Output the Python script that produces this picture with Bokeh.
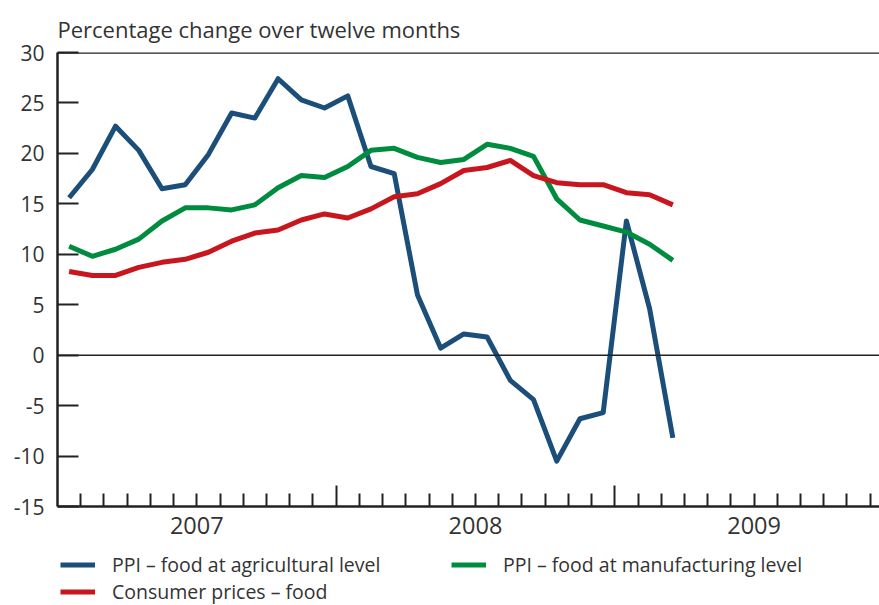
from bokeh.plotting import figure
from bokeh.layouts import column
from bokeh.models import (ColumnDataSource, FixedTicker, LinearAxis, Span, Legend,
                          LegendItem, Range1d)
from bokeh.embed import file_html
from bokeh.resources import INLINE

# Monthly observations, Jan 2007 - Mar 2009
months = ["2007-01", "2007-02", "2007-03", "2007-04", "2007-05", "2007-06",
          "2007-07", "2007-08", "2007-09", "2007-10", "2007-11", "2007-12",
          "2008-01", "2008-02", "2008-03", "2008-04", "2008-05", "2008-06",
          "2008-07", "2008-08", "2008-09", "2008-10", "2008-11", "2008-12",
          "2009-01", "2009-02", "2009-03"]
ppi_agri = [15.6, 18.4, 22.7, 20.3, 16.5, 16.9, 19.9, 24.0, 23.5, 27.4, 25.3, 24.5,
            25.7, 18.7, 18.0, 6.0, 0.7, 2.1, 1.8, -2.5, -4.4, -10.5, -6.3, -5.7,
            13.3, 4.6, -8.2]
ppi_manu = [10.8, 9.8, 10.5, 11.5, 13.3, 14.6, 14.6, 14.4, 14.9, 16.6, 17.8, 17.6,
            18.7, 20.3, 20.5, 19.6, 19.1, 19.4, 20.9, 20.5, 19.7, 15.5, 13.4, 12.8,
            12.2, 11.0, 9.4]
cpi_food = [8.3, 7.9, 7.9, 8.7, 9.2, 9.5, 10.2, 11.3, 12.1, 12.4, 13.4, 14.0,
            13.6, 14.5, 15.7, 16.0, 17.0, 18.3, 18.6, 19.3, 17.8, 17.1, 16.9, 16.9,
            16.1, 15.9, 14.9]
years = ["2007", "2008", "2009"]
y_ticks = [-15, -10, -5, 0, 5, 10, 15, 20, 25, 30]
labels = ["PPI \u2013 food at agricultural level",
          "PPI \u2013 food at manufacturing level",
          "Consumer prices \u2013 food"]

FONT = "Open Sans"
TXT = "#333333"
AX = "#222222"
BLUE, GREEN, RED = "#1b4f7a", "#008c3f", "#c8161e"
COLORS = [BLUE, GREEN, RED]

# month position: months since Jan 2007, centred within month
def month_pos(m):
    y, mo = m.split("-")
    return (int(y) - 2007) * 12 + int(mo) - 1 + 0.5

src = ColumnDataSource(dict(x=[month_pos(m) for m in months],
                            agri=ppi_agri, manu=ppi_manu, cpi=cpi_food))

p = figure(width=879, height=551, x_range=Range1d(0, 35.4), y_range=Range1d(-15, 30),
           output_backend="svg", toolbar_location=None,
           x_axis_type=None, y_axis_type=None,
           min_border_left=57, min_border_right=0, min_border_top=52,
           min_border_bottom=45)
p.outline_line_color = None
p.grid.visible = False
p.background_fill_color = "white"
p.border_fill_color = "white"

p.title.text = "Percentage change over twelve months"
p.title.text_font = FONT
p.title.text_font_size = "22px"
p.title.text_font_style = "normal"
p.title.text_color = TXT
p.title.align = "left"
p.title.standoff = 17

# y axis (plain hyphen for negatives, as in the original)
yax = LinearAxis(ticker=FixedTicker(ticks=y_ticks),
                 major_label_overrides={t: str(t) for t in y_ticks})
yax.major_tick_in = 21
yax.major_tick_out = 0
yax.minor_tick_line_color = None
yax.axis_line_width = 2.5
yax.axis_line_color = AX
yax.major_tick_line_width = 2
yax.major_tick_line_color = AX
yax.major_label_text_font = FONT
yax.major_label_text_font_size = "21px"
yax.major_label_text_color = TXT
yax.major_label_standoff = 13
p.add_layout(yax, "left")

# x axis: month ticks with longer year-boundary ticks
n_months = 36
year_bounds = [12 * i for i in range(1, len(years))]
minor = [m for m in range(1, n_months) if m not in year_bounds]
xax = LinearAxis(ticker=FixedTicker(ticks=year_bounds, minor_ticks=minor),
                 major_label_overrides={t: "" for t in year_bounds})
xax.major_tick_in = 21
xax.major_tick_out = 0
xax.minor_tick_in = 13
xax.minor_tick_out = 0
xax.axis_line_width = 2.5
xax.axis_line_color = AX
xax.major_tick_line_width = 2
xax.major_tick_line_color = AX
xax.minor_tick_line_width = 2
xax.minor_tick_line_color = AX
xax.major_label_text_font_size = "1px"
xax.major_label_standoff = 0
p.add_layout(xax, "below")

year_mid = [12 * i + 6 for i in range(len(years))]
xlab = LinearAxis(ticker=FixedTicker(ticks=year_mid),
                  major_label_overrides={t: y for t, y in zip(year_mid, years)})
xlab.axis_line_color = None
xlab.major_tick_line_color = None
xlab.minor_tick_line_color = None
xlab.major_tick_in = 0
xlab.major_tick_out = 0
xlab.major_label_text_font = FONT
xlab.major_label_text_font_size = "23.5px"
xlab.major_label_text_color = TXT
xlab.major_label_standoff = 10
p.add_layout(xlab, "below")

p.add_layout(Span(location=30, dimension="width", line_color=AX, line_width=2.5))
p.add_layout(Span(location=0, dimension="width", line_color=AX, line_width=1.5))

for col, c in zip(["agri", "manu", "cpi"], COLORS):
    p.line("x", col, source=src, line_color=c, line_width=5, line_join="round")

# legend strip below the chart (frames are aligned with the chart by the column)
lg = figure(width=879, height=54, x_range=Range1d(0, 1), y_range=Range1d(0, 1),
            output_backend="svg", toolbar_location=None,
            x_axis_type=None, y_axis_type=None,
            min_border_left=57, min_border_right=0, min_border_top=0, min_border_bottom=0)
lg.outline_line_color = None
lg.grid.visible = False
lg.background_fill_color = "white"
lg.border_fill_color = "white"
nan = float("nan")
items = []
for lab, c in zip(labels, COLORS):
    r = lg.line(x=[nan], y=[nan], line_color=c, line_width=5)
    items.append(LegendItem(label=lab, renderers=[r]))

legend = Legend(items=items, orientation="horizontal", ncols=2, location=(3, 0))
legend.border_line_color = None
legend.background_fill_alpha = 0
legend.padding = 0
legend.margin = 0
legend.spacing = 0
legend.glyph_width = 35
legend.glyph_height = 23
legend.label_height = 23
legend.label_width = 339
legend.label_standoff = 17
legend.label_text_font = FONT
legend.label_text_font_size = "19.5px"
legend.label_text_color = TXT
lg.add_layout(legend, "center")

layout = column(p, lg, spacing=0)
open("out.html", "w").write(file_html(layout, INLINE))
